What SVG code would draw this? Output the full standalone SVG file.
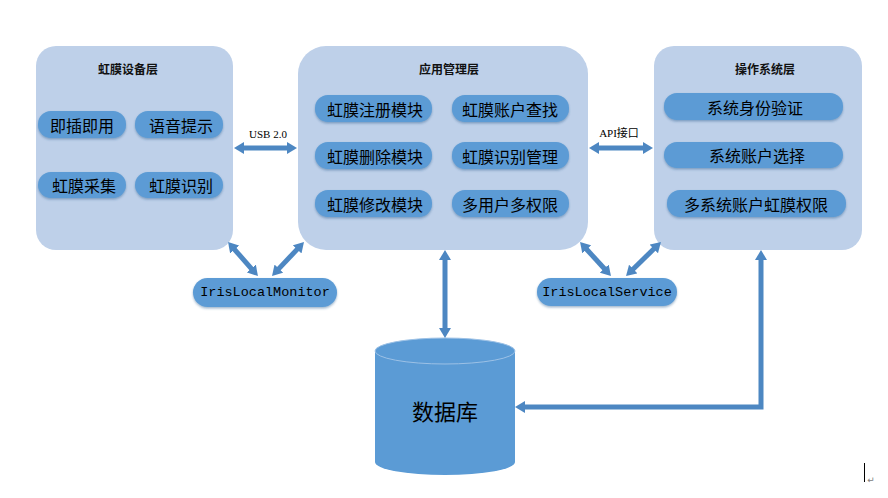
<svg xmlns="http://www.w3.org/2000/svg" width="888" height="498" viewBox="0 0 888 498">
<style>
.panel{fill:#bed0e9;}
.pill{fill:#5b9bd5;filter:url(#sh);}
.ptxt{font-family:"Noto Sans CJK SC","Noto Sans",sans-serif;font-size:16px;fill:#000;text-anchor:middle;dominant-baseline:central;}
.title{font-family:"Noto Sans CJK SC",sans-serif;font-size:12px;font-weight:bold;fill:#111;text-anchor:middle;dominant-baseline:central;}
.mono{font-family:"Liberation Mono",monospace;font-size:13.5px;fill:#000;text-anchor:middle;dominant-baseline:central;}
.lbl{font-family:"Liberation Serif","Noto Sans CJK SC",serif;font-size:11px;fill:#000;text-anchor:middle;dominant-baseline:central;}
.conn{fill:none;stroke:#4d87c2;stroke-width:5;marker-start:url(#ah);marker-end:url(#ah);}
</style>
<defs>
<marker id="ah" viewBox="0 0 10 12" markerWidth="10" markerHeight="12" refX="1" refY="6" orient="auto-start-reverse" markerUnits="userSpaceOnUse">
<path d="M0,0 L10,6 L0,12 z" fill="#4d87c2"/>
</marker>
<filter id="sh" x="-10%" y="-20%" width="120%" height="150%">
<feDropShadow dx="0" dy="1.5" stdDeviation="1" flood-color="#2f5f8f" flood-opacity="0.45"/>
</filter>
</defs>

<g id="device-layer">
<rect class="panel" x="36" y="46" width="197" height="204" rx="20"/>
<text class="title" x="128" y="68">虹膜设备层</text>
<rect class="pill" x="38" y="111" width="88" height="27" rx="13"/>
<text class="ptxt" x="82" y="124.5">即插即用</text>
<rect class="pill" x="135" y="111" width="88" height="27" rx="13"/>
<text class="ptxt" x="181" y="124.5">语音提示</text>
<rect class="pill" x="38" y="172" width="88" height="26" rx="13"/>
<text class="ptxt" x="84" y="185">虹膜采集</text>
<rect class="pill" x="135" y="172" width="88" height="26" rx="13"/>
<text class="ptxt" x="181" y="185">虹膜识别</text>
</g>

<g id="app-layer">
<rect class="panel" x="298" y="46" width="290" height="204" rx="28"/>
<text class="title" x="449" y="68">应用管理层</text>
<rect class="pill" x="315" y="95" width="117" height="27" rx="13"/>
<text class="ptxt" x="375" y="108.5">虹膜注册模块</text>
<rect class="pill" x="452" y="95" width="117" height="27" rx="13"/>
<text class="ptxt" x="510" y="108.5">虹膜账户查找</text>
<rect class="pill" x="315" y="142" width="117" height="27" rx="13"/>
<text class="ptxt" x="375" y="155.5">虹膜删除模块</text>
<rect class="pill" x="452" y="142" width="117" height="27" rx="13"/>
<text class="ptxt" x="510" y="155.5">虹膜识别管理</text>
<rect class="pill" x="315" y="190" width="117" height="27" rx="13"/>
<text class="ptxt" x="375" y="203.5">虹膜修改模块</text>
<rect class="pill" x="452" y="190" width="117" height="27" rx="13"/>
<text class="ptxt" x="510" y="203.5">多用户多权限</text>
</g>

<g id="os-layer">
<rect class="panel" x="654" y="46" width="208" height="204" rx="20"/>
<text class="title" x="765" y="68">操作系统层</text>
<rect class="pill" x="664" y="93" width="179" height="27" rx="13"/>
<text class="ptxt" x="755" y="106.5">系统身份验证</text>
<rect class="pill" x="664" y="142" width="179" height="26" rx="13"/>
<text class="ptxt" x="757" y="155">系统账户选择</text>
<rect class="pill" x="667" y="190" width="179" height="27" rx="13"/>
<text class="ptxt" x="756" y="203.5">多系统账户虹膜权限</text>
</g>

<g id="iris-local-monitor">
<rect class="pill" x="193" y="278" width="144" height="29" rx="14.5"/>
<text class="mono" x="265" y="292.5">IrisLocalMonitor</text>
</g>

<g id="iris-local-service">
<rect class="pill" x="537" y="278" width="140" height="28" rx="14"/>
<text class="mono" x="607" y="292">IrisLocalService</text>
</g>

<g id="database">
<path d="M375,351 L375,462 A70,13 0 0 0 515,462 L515,351 Z" fill="#5b9bd5"/>
<ellipse cx="445" cy="351" rx="70" ry="13" fill="#5b9bd5" stroke="#9cc1e6" stroke-width="1"/>
<text class="ptxt" x="445" y="410" style="font-size:22px">数据库</text>
</g>

<g id="connectors">
<path class="conn" d="M243,148 L288,148"/>
<text class="lbl" x="268" y="134">USB 2.0</text>
<path class="conn" d="M598,148 L644,148"/>
<text class="lbl" x="619" y="133">API接口</text>
<path class="conn" d="M234,248.8 L252,269.3"/>
<path class="conn" d="M297.8,248.6 L278.2,269.4"/>
<path class="conn" d="M586.1,248.7 L604.9,269.3"/>
<path class="conn" d="M654.5,248.3 L632.5,269.7"/>
<path class="conn" d="M445,259 L445,329"/>
<path class="conn" d="M761,259 L761,407 L524,407"/>
</g>

<line x1="864.5" y1="463" x2="864.5" y2="482" stroke="#000" stroke-width="1"/>
<text x="871" y="480" style="font-family:'DejaVu Sans',sans-serif;font-size:9px;fill:#808080;text-anchor:middle;dominant-baseline:central">↵</text>
</svg>
